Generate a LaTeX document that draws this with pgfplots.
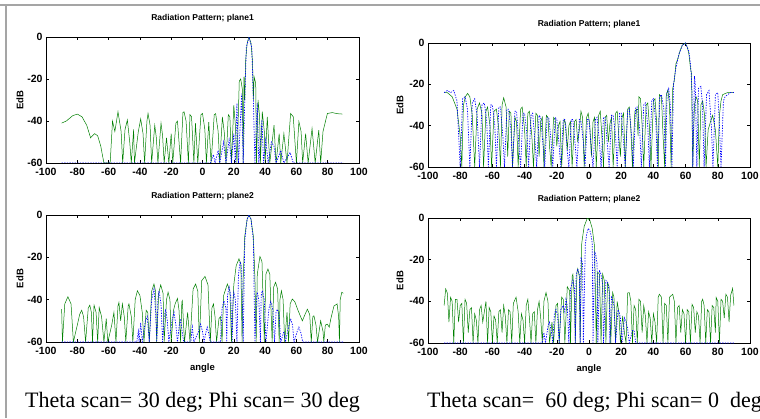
\documentclass[border=0pt]{standalone}
\usepackage{fontspec}
\setmainfont{Liberation Serif}
\newfontfamily\lsans{Liberation Sans}
\usepackage{pgfplots}
\pgfplotsset{compat=1.18}

\definecolor{mgreen}{RGB}{0,128,0}
\definecolor{mblue}{RGB}{0,0,255}
\definecolor{framegray}{RGB}{165,165,165}

\pgfplotsset{
  matfig/.style={
    scale only axis, anchor=south west,
    xmin=-100, xmax=100, ymin=-60, ymax=0,
    xtick={-100,-80,...,100}, ytick={-60,-40,-20,0},
    tick align=inside, major tick length=3pt,
    axis line style={line width=0.8pt},
    every tick/.style={black, line width=0.6pt},
    /pgf/number format/assume math mode=true,
    tick label style={font=\lsans\bfseries\fontsize{10.5}{10.5}\selectfont},
    xticklabel style={yshift=-1.5pt},
    title style={font=\lsans\bfseries\fontsize{8.5}{8.5}\selectfont,
      at={(0.5,1)}, anchor=center, yshift=13pt},
    ylabel={EdB},
    every axis y label/.style={at={(axis description cs:-0.083,0.5)},
      rotate=90, anchor=center,
      font=\lsans\bfseries\fontsize{9.5}{9.5}\selectfont},
    every axis x label/.style={at={(axis description cs:0.5,0)},
      anchor=center, yshift=-26pt,
      font=\lsans\bfseries\fontsize{9.5}{9.5}\selectfont},
  },
  gr/.style={mgreen, line width=0.5pt},
  bl/.style={mblue, line width=0.7pt, dash pattern=on 1.3pt off 1.3pt},
}

\begin{document}
\begin{tikzpicture}[x=1pt,y=1pt]
\useasboundingbox (0,0) rectangle (760,418);
\fill[white] (0,0) rectangle (760,418);
\draw[framegray, line width=2pt] (0,413) -- (760,413);
\draw[framegray, line width=2.5pt] (6,0) -- (6,413);

% theta 30, phi 30 -- plane1
\begin{axis}[matfig, at={(46pt,255pt)}, width=313pt, height=126pt,
  title={Radiation Pattern; plane1}]
\addplot[gr] coordinates {
(-90,-41)(-87,-40)(-83,-37.5)(-80,-36.7)(-77,-38)(-74,-42)(-71.5,-48)(-69,-46)(-67,-47)(-65,-52)(-63,-60)
(-59,-60)(-57.5,-40)(-56,-45)(-54,-35.6)(-52,-45)(-51,-60)(-49.5,-44)(-48,-39.5)(-46.5,-50)(-45.5,-60)
(-44,-44)(-43.5,-60)(-41,-45)(-39.5,-39)(-38,-46)(-37,-60)(-35.5,-40)(-34.8,-36.4)(-33.5,-42)(-32.5,-60)
(-30.5,-42)(-29.5,-48)(-28.5,-60)(-26.5,-41)(-25.5,-47)(-24.5,-60)(-23,-48)(-21.5,-60)(-20,-46)(-19,-60)
(-17,-41)(-16,-40)(-15,-50)(-14,-60)(-12.5,-36)(-11.8,-35.6)(-10.5,-40)(-9,-60)(-8,-37)(-7,-38)(-5.5,-60)
(-4.5,-41)(-3,-60)(-1,-37)(0,-36.4)(1.5,-44)(2.5,-60)(4,-40.5)(5.5,-60)(7.5,-37)(8.4,-36.5)(10,-45)(11,-60)
(12.7,-38)(14,-46)(15,-60)(16.5,-37)(17.5,-38)(18.5,-60)(20,-32.4)(21,-42)(22,-60)(23.5,-21)(24.4,-20)
(25.5,-25)(26,-60)(26.5,-19)(27,-30)(27.5,-12)(28.5,-3)(29.7,0)(31,-3)(32,-12)(32.5,-30)(33,-19)(34,-22)
(34.5,-60)(35.5,-30)(36.5,-38)(37,-60)(38.2,-35.6)(39.5,-45)(40,-60)(41.4,-38)(43,-60)(45.7,-42)(47,-60)
(49,-46)(50,-60)(52,-46)(54,-60)(56.3,-36.4)(58,-38)(60,-60)(61.6,-40.3)(63,-45)(64,-60)(65.9,-46)(67.5,-60)
(70,-43.5)(72,-60)(74.3,-44.3)(75.5,-60)(77,-45)(79.8,-36.4)(83,-36)(86,-36.5)(89.4,-36.7)
};
\addplot[bl] coordinates {
(-90,-60)(5,-60)(7,-56)(8,-60)(10,-54)(11,-60)(13.5,-50)(15,-60)(17,-49)(18.5,-60)(20,-46)(21,-60)
(22,-31.6)(23,-60)(25,-27)(26,-60)(27,-30)(28,-5)(29.7,0)(31.5,-5)(32.5,-30)(33.5,-60)(35,-31.6)(36,-60)
(38,-39.5)(39,-60)(40.4,-49)(42,-60)(44,-50)(45.7,-52)(47,-60)(50,-54)(52,-60)(56,-55)(58,-60)(90,-60)
};
\end{axis}

% theta 30, phi 30 -- plane2
\begin{axis}[matfig, at={(46pt,76pt)}, width=313pt, height=127pt,
  title={Radiation Pattern; plane2}, xlabel={angle}]
\addplot[gr] coordinates {
(-90,-44.5)(-89.5,-60)(-88,-42)(-86,-38.6)(-84,-42)(-82.5,-60)(-80,-52)(-78.5,-47)(-77.2,-45)(-76,-48)
(-74.7,-60)(-73,-44)(-72,-42.6)(-71,-46)(-70.3,-60)(-69.3,-42.6)(-68,-46)(-67,-60)(-66,-43.7)(-64.5,-48)
(-63,-60)(-61.5,-49)(-60.5,-60)(-58,-52)(-56.6,-46)(-55.3,-60)(-54,-43)(-53.4,-41.3)(-52.3,-50)(-51.2,-42)
(-50,-48)(-49,-60)(-47.5,-43)(-47,-42)(-45.5,-48)(-44.5,-60)(-43,-40)(-41.6,-35.8)(-40,-38)(-38.5,-46)
(-37.4,-60)(-36,-45)(-35,-46)(-34,-60)(-32.5,-36)(-31,-32.6)(-30,-36)(-29.3,-60)(-28,-37)(-26.7,-33)
(-25.2,-37)(-24.5,-60)(-23,-40)(-22,-36.5)(-20.8,-40)(-20,-60)(-18.5,-45)(-17.5,-42)(-16,-39.4)(-15,-45)
(-14,-60)(-13.2,-41)(-12.9,-40.5)(-11.5,-60)(-9.5,-46)(-8,-60)(-6,-35)(-4.4,-32.6)(-3,-36)(-2,-60)
(-0.5,-31)(1.6,-29)(3.5,-33)(5,-60)(6,-44)(7,-42)(8,-48)(9,-60)(10.5,-49)(11.5,-48)(12.5,-60)(13.5,-38)
(15.9,-32.6)(17.5,-36)(18.5,-60)(20,-33)(21.5,-24)(23.3,-20.7)(24.5,-23)(25.3,-60)(26,-30)(27,-10)(28.5,-2)
(29.7,0)(31,-2)(32.5,-10)(33.5,-30)(34.3,-60)(35,-28)(36.7,-19.6)(38,-22)(39.5,-60)(40.5,-28)(41.8,-25.5)
(43,-28)(44.5,-60)(45.5,-34)(46.7,-31.8)(48,-35)(49,-60)(49.5,-40)(50.4,-35.8)(51.5,-40)(52.5,-60)(54,-46)
(55,-60)(56,-42)(57.4,-39.7)(59,-41)(61,-45)(63.8,-50)(65.5,-47)(67,-44.5)(68.5,-47)(69.5,-60)(70.5,-48)
(71.2,-47.6)(72.5,-52)(73.5,-60)(75.5,-50)(77,-55)(77.5,-60)(78.5,-52)(79.8,-51.6)(81,-53)(82,-49)(84,-43)
(86,-42)(87,-48)(87.5,-60)(88,-40)(89,-36.5)(90,-37)
};
\addplot[bl] coordinates {
(-90,-60)(-42,-60)(-41,-55)(-40.5,-60)(-39.5,-50.8)(-38.5,-60)(-36.5,-50)(-35.3,-48)(-34,-60)(-32.5,-40)
(-31,-35)(-30,-45)(-29.2,-60)(-28.5,-40)(-27.8,-35.8)(-26.5,-42)(-25.5,-60)(-24.5,-48)(-23.5,-44.5)
(-22.5,-50)(-21.5,-60)(-19.5,-50)(-18.2,-46)(-17,-52)(-16,-60)(-14.8,-52)(-14,-49)(-13,-55)(-12,-60)
(-7.5,-60)(-6.5,-53)(-5.5,-60)(-2.5,-55)(-1.2,-51.6)(0,-55)(1,-60)(2,-56)(3,-53)(4,-56)(5,-60)(11.5,-60)
(12.5,-44)(13.7,-40.5)(15,-44)(15.5,-60)(16,-38)(17,-34)(18,-38)(19,-60)(19.5,-40)(20,-36.5)(21,-40)
(22,-60)(23,-28)(24,-22)(25,-25)(26,-60)(27,-12)(28.5,-2)(29.7,0)(31,-2)(32.5,-12)(33.5,-60)(34.5,-40)
(35,-36.5)(36,-40)(37,-60)(37.5,-38)(38.2,-35.7)(39.5,-40)(40.5,-60)(42.5,-44)(43.6,-41)(45,-45)(46,-60)
(47,-46)(47.8,-44.5)(49,-48)(50,-60)(52,-55)(53,-60)(55.5,-51)(56.3,-49)(57.5,-52)(58.5,-60)(60.5,-55)
(61.6,-53)(63,-56)(64,-60)(90,-60)
};
\end{axis}

% theta 60, phi 0 -- plane1
\begin{axis}[matfig, at={(428pt,251pt)}, width=322pt, height=124pt,
  title={Radiation Pattern; plane1},
  every axis y label/.append style={at={(axis description cs:-0.087,0.5)}}]
\addplot[gr] coordinates {
(-90,-24)(-88,-24)(-85,-26)(-82,-32)(-80,-45)(-79,-60)(-78,-30)(-76.8,-26)(-75.4,-24.4)(-74,-26)(-72.5,-35)
(-71,-60)(-69.5,-32)(-68,-29)(-66.5,-34)(-65.5,-60)(-64,-33)(-63,-31)(-61.5,-40)(-60.5,-60)(-59,-33)
(-57.5,-32)(-56,-42)(-55,-60)(-54,-30)(-53,-26.5)(-51.5,-31)(-50.5,-55)(-49.5,-33)(-48.5,-34)(-47.5,-60)
(-46,-36)(-45,-38)(-44,-60)(-42.5,-32)(-41.5,-31)(-40,-42)(-39,-60)(-38,-34)(-37,-33)(-35.5,-45)(-34.5,-60)
(-33,-34)(-32,-35)(-31,-55)(-30,-38)(-29,-36)(-28,-60)(-26.5,-35)(-25.5,-36)(-24.5,-50)(-23.5,-60)(-22,-36)
(-21,-37)(-20,-50)(-19,-40)(-18,-38)(-17,-60)(-15.5,-37)(-14.5,-39)(-13.5,-52)(-12.5,-40)(-11.5,-38)
(-10.5,-60)(-9,-38)(-8,-37)(-7,-48)(-6,-42)(-5,-33)(-4,-36)(-3,-60)(-1.5,-36)(-0.5,-34)(0.5,-40)(1.5,-55)
(2.5,-38)(3.5,-36)(4.5,-60)(6,-35)(7,-33)(8,-45)(9,-60)(10,-36)(11,-35)(12,-48)(13,-39)(14,-36)(15,-60)
(16.5,-34)(17.5,-33)(18.5,-45)(19.5,-55)(20.5,-36)(21.5,-34)(22.5,-60)(24,-32)(25,-31)(26,-42)(27,-60)
(28.5,-33)(29.5,-32)(30.5,-45)(31,-26)(32,-27)(33,-40)(34,-60)(35.5,-30)(36.5,-29)(37.5,-40)(38.5,-60)
(40,-28)(41,-27)(42,-38)(43,-60)(43.7,-25)(45,-26)(46,-45)(47,-60)(48,-25)(49,-22.7)(50,-30)(51,-60)
(52,-22)(53,-18)(54,-10)(55,-8)(56.5,-4)(58,-1)(59.8,0)(61,-2)(62,-5)(63,-12)(63.7,-15)(64.4,-60)
(65.5,-30)(66.5,-26)(67.5,-28)(68.5,-60)(69.5,-30)(70.6,-28)(71.8,-35)(72.7,-60)(74,-42)(75.5,-38)
(76.8,-35)(78.5,-42)(80,-60)(81,-35)(82,-28)(83,-25)(86,-24)(89.6,-24)
};
\addplot[bl] coordinates {
(-90,-24)(-88,-23)(-86,-24)(-84,-23)(-82,-28)(-80,-60)(-78.5,-27)(-77,-26)(-75.5,-32)(-74,-60)(-72.5,-29)
(-71,-27)(-69.5,-35)(-68,-60)(-66.5,-30)(-65,-29)(-63.5,-38)(-62.5,-60)(-61,-30)(-60,-30)(-58.5,-40)
(-57.5,-60)(-56,-31)(-55,-31)(-53.5,-45)(-52.5,-60)(-51,-32)(-50,-32)(-48.5,-42)(-47.5,-60)(-46,-33)
(-45,-33)(-43.5,-50)(-42.5,-60)(-41,-34)(-40,-34)(-38.5,-45)(-37.5,-60)(-36,-35)(-35,-34)(-33.5,-48)
(-32.5,-60)(-31,-35)(-30,-36)(-28.5,-50)(-27.5,-60)(-26,-36)(-25,-36)(-23.5,-48)(-22.5,-60)(-21,-36)
(-20,-37)(-18.5,-50)(-17.5,-60)(-16,-37)(-15,-37)(-13.5,-52)(-12.5,-60)(-11,-37)(-10,-37)(-8.5,-50)
(-7.5,-60)(-6,-37)(-5,-38)(-3.5,-48)(-2.5,-60)(-1,-37)(0,-37)(1.5,-52)(2.5,-60)(4,-37)(5,-36)(6.5,-48)
(7.5,-60)(9,-36)(10,-36)(11.5,-50)(12.5,-60)(14,-35)(15,-35)(16.5,-45)(17.5,-60)(19,-34)(20,-34)(21.5,-48)
(22.5,-60)(24,-33)(25,-32)(26.5,-45)(27.5,-60)(29,-31)(30,-31)(31.5,-42)(32.5,-60)(34,-30)(35,-29)
(36.5,-40)(37.5,-60)(39,-28)(40,-27)(41.5,-38)(42.5,-60)(44,-26)(45,-25)(46.5,-32)(47.5,-60)(48.5,-24)
(49.5,-22)(50.5,-30)(51.5,-60)(52.5,-20)(54,-12)(56,-5)(58,-1)(60,0)(62,-4)(63,-10)(63.5,-15)(64,-25)
(64.5,-60)(65.5,-16)(66,-20)(67,-60)(68,-22)(69.5,-21)(70.5,-30)(71.5,-60)(73,-25)(74.5,-23)(76,-40)
(77,-60)(78.5,-25)(80,-24)(81,-40)(82,-60)(83.5,-28)(84.5,-26)(86,-25)(88,-24)(90,-24)
};
\end{axis}

% theta 60, phi 0 -- plane2
\begin{axis}[matfig, at={(428pt,75pt)}, width=322pt, height=125pt,
  title={Radiation Pattern; plane2}, xlabel={angle},
  every axis y label/.append style={at={(axis description cs:-0.087,0.5)}}]
\addplot[gr] coordinates {
(-90,-42)(-89,-34)(-88,-36)(-87,-50)(-86,-38)(-85,-40)(-84,-60)(-83,-39)(-82,-39)(-81,-50)(-80,-42)
(-79,-41)(-78,-60)(-77,-39)(-76,-41)(-75,-55)(-74,-44)(-73,-43)(-72,-60)(-71,-46)(-70,-49)(-69,-60)
(-68,-44)(-67,-42)(-66,-50)(-65,-45)(-64,-40)(-63,-60)(-62,-43)(-61,-45)(-60,-60)(-59,-47)(-58,-49)
(-57,-60)(-56,-45)(-55,-44)(-54,-55)(-53,-42)(-52,-47)(-51,-60)(-50,-44)(-49,-45)(-48,-60)(-47,-41)
(-45.3,-38)(-44,-45)(-43,-60)(-42,-46)(-41,-49)(-40,-60)(-39,-42)(-38,-39)(-37,-48)(-36,-60)(-35,-46)
(-34,-45)(-33,-60)(-32,-44)(-31,-40)(-30,-48)(-29,-60)(-28,-40)(-26.7,-35.8)(-25.5,-40)(-24.5,-60)
(-23,-50)(-22,-60)(-20.5,-42)(-19.5,-41)(-18.5,-60)(-17,-38)(-16,-39)(-15,-60)(-13.5,-33)(-12,-35)
(-11.5,-60)(-10.5,-28)(-10,-27)(-9,-40)(-8.5,-60)(-7.5,-26)(-7,-24.4)(-6,-28)(-5.5,-60)(-4.5,-12)(-3,-4)
(-1,0)(0.5,-1)(2,-5)(3.5,-14)(4.5,-60)(5.4,-26)(6.5,-27)(7.5,-60)(8.5,-27)(9.5,-30)(10.5,-60)(11.5,-31)
(12.5,-33)(13.5,-60)(14.7,-35.8)(15.5,-38)(16.5,-60)(17.5,-40)(18.5,-45)(19.5,-60)(20.9,-47)(22,-55)
(23,-60)(24,-36)(25,-35.8)(26,-40)(27,-60)(28,-42)(29,-44)(30,-60)(31,-39)(32,-40)(33,-55)(34,-42)
(35,-47)(36,-60)(37,-45)(38,-48)(39,-60)(40,-46)(41,-50)(42,-60)(43,-38)(43.7,-36.6)(45,-38)(46,-60)
(47,-41)(48,-42)(49,-60)(50,-38)(52,-36.6)(53,-40)(54,-60)(55,-43)(56,-42)(57,-55)(58,-44)(59,-46)
(60,-60)(61,-44)(62,-45)(63,-60)(64,-41.4)(65,-43)(66,-55)(67,-45)(68,-47)(69,-60)(70,-40)(70.6,-39)
(71.5,-42)(72.5,-60)(73.5,-44)(74.5,-45)(75.5,-60)(76.5,-42)(77.5,-43)(78.5,-55)(79,-38.2)(80,-40)
(81,-60)(82,-39)(83,-40)(84,-48)(85,-36.6)(86,-38)(87,-50)(88,-37)(89.2,-33.8)(90,-42)
};
\addplot[bl] coordinates {
(-90,-60)(-29,-60)(-28,-55)(-27,-60)(-25.5,-52)(-24.6,-50)(-23.5,-54)(-22.5,-60)(-21.5,-46)(-20.5,-43.9)
(-19.5,-47)(-18.5,-60)(-17.5,-44)(-16,-42)(-15,-45)(-14.3,-39)(-13.5,-42)(-12.5,-60)(-11.5,-34)(-10,-30)
(-9,-34)(-8.5,-60)(-8,-28)(-7,-24.4)(-6,-27)(-5.5,-60)(-5,-18.8)(-4,-22)(-3.5,-60)(-2.3,-13)(-1.5,-8)
(-0.5,-5)(0.5,-6)(1.2,-8)(2,-12)(2.5,-60)(3.5,-16)(4.3,-18)(5,-22)(5.5,-60)(6.5,-25)(7.4,-27)(8.5,-32)
(9,-60)(10.5,-30)(11.6,-31)(12.5,-35)(13,-60)(14,-38)(14.7,-39)(15.5,-42)(16.5,-60)(18,-44)(18.8,-45.5)
(19.5,-48)(20.5,-60)(22,-48)(23,-50)(24,-53)(25,-60)(27,-54)(28,-54)(29,-60)(90,-60)
};
\end{axis}

\node[anchor=base west, inner sep=0, font=\fontsize{22}{26}\selectfont]
  at (25pt,11pt) {Theta scan= 30 deg; Phi scan= 30 deg};
\node[anchor=base west, inner sep=0, font=\fontsize{22}{26}\selectfont]
  at (427pt,11pt) {Theta scan=~ 60 deg; Phi scan= 0~ deg};
\end{tikzpicture}
\end{document}
